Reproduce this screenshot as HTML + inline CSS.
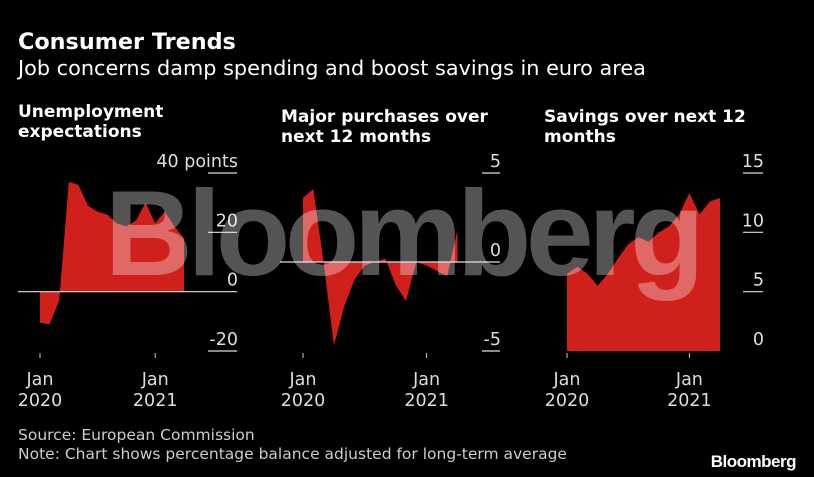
<!DOCTYPE html>
<html><head><meta charset="utf-8"><style>
body{margin:0;background:#000;width:814px;height:477px;overflow:hidden;font-family:"DejaVu Sans",sans-serif}
svg{display:block}
</style></head><body>
<svg width="814" height="477" font-family="DejaVu Sans, sans-serif">
<text x="18" y="49" fill="#fff" font-size="22.3" font-weight="bold">Consumer Trends</text>
<text x="18" y="75" fill="#fff" font-size="20.8">Job concerns damp spending and boost savings in euro area</text>
<text x="18" y="117" fill="#fff" font-size="17" font-weight="bold">Unemployment</text>
<text x="18" y="137" fill="#fff" font-size="17" font-weight="bold">expectations</text>
<text x="281" y="122" fill="#fff" font-size="17" font-weight="bold">Major purchases over</text>
<text x="281" y="142" fill="#fff" font-size="17" font-weight="bold">next 12 months</text>
<text x="544" y="122" fill="#fff" font-size="17" font-weight="bold">Savings over next 12</text>
<text x="544" y="142" fill="#fff" font-size="17" font-weight="bold">months</text>
<g id="panels"></g>
<text x="402" y="275" fill="#fff" fill-opacity="0.33" font-family="Liberation Sans, sans-serif" font-size="122" font-weight="bold" text-anchor="middle" letter-spacing="-5.5">Bloomberg</text>
<text x="18" y="440" fill="#ccc" font-size="15.5">Source: European Commission</text>
<text x="18" y="459" fill="#ccc" font-size="15.5">Note: Chart shows percentage balance adjusted for long-term average</text>
<text x="796" y="467" fill="#fff" font-family="Liberation Sans, sans-serif" font-size="17" font-weight="bold" text-anchor="end" letter-spacing="-0.5">Bloomberg</text>
</svg>
<script>
const unemployment=[-10.5,-11,-3,37,36,29,27,26,23,22,24,30,23,27,22,18];
const purchases=[3.6,4.1,0,-4.7,-2.5,-1,-0.2,0,0.2,-1.3,-2.2,0,-0.2,-0.5,-0.8,1.8];
const savings=[6.5,7.1,6.5,5.5,6.5,7.8,9,9.6,9.2,10,10.5,11.5,13.3,11.5,12.6,12.9];
const ticks1=[40,20,0,-20], ticks2=[5,0,-5], ticks3=[15,10,5,0];
const labels1=["40 points","20","0","-20"];
const NS="http://www.w3.org/2000/svg";
const g=document.getElementById('panels');
function el(t,a){const e=document.createElementNS(NS,t);for(const k in a)e.setAttribute(k,a[k]);g.appendChild(e);return e;}
function panel(id,data,ticks,labels,vmax,vmin,yTop,yBot,x0,month,right,gridL,zeroL,base,drawZero){
  const y=v=>yTop+(vmax-v)/(vmax-vmin)*(yBot-yTop);
  const x=i=>x0+i*month;
  const by=y(base);
  let d=`M${x(0)},${by}`;data.forEach((v,i)=>d+=` L${x(i)},${y(v)}`);d+=` L${x(data.length-1)},${by} Z`;
  const a=el('path',{d:d,fill:'#d0201c'});
  
  
  ticks.forEach((t,k)=>{
    if(!(t===0&&drawZero)&&!(t===0&&id==='savings')){const l=el('line',{x1:gridL,x2:right,y1:y(t),y2:y(t),stroke:'#ddd','stroke-width':1.2});
    
    }
    const tx=el('text',{x:right+1,y:y(t)-6,fill:'#ddd','font-size':17.5,'text-anchor':'end'});
    tx.textContent=labels?labels[k]:String(t);
    
    
  });
  if(drawZero){const z=el('line',{x1:zeroL,x2:right,y1:y(0),y2:y(0),stroke:'#ddd','stroke-width':1.2});
    
    }
  [[0,'2020'],[12,'2021']].forEach(([i,yr])=>{
    const t=el('line',{x1:x(i),x2:x(i),y1:353,y2:358,stroke:'#ccc','stroke-width':1});
    
    
    const a1=el('text',{x:x(i),y:385,fill:'#ddd','font-size':17.5,'text-anchor':'middle'});a1.textContent='Jan';
    
    
    const a2=el('text',{x:x(i),y:406,fill:'#ddd','font-size':17.5,'text-anchor':'middle'});a2.textContent=yr;
    
    
  });
}
panel('unemployment',unemployment,ticks1,labels1,40,-20,173,351,40,9.6,237,208,18,0,true);
panel('purchases',purchases,ticks2,null,5,-5,173,351,303,10.3,500,482,280,0,true);
panel('savings',savings,ticks3,null,15,0,173,351,567,10.2,763,743,0,0,false);
</script>
</body></html>
